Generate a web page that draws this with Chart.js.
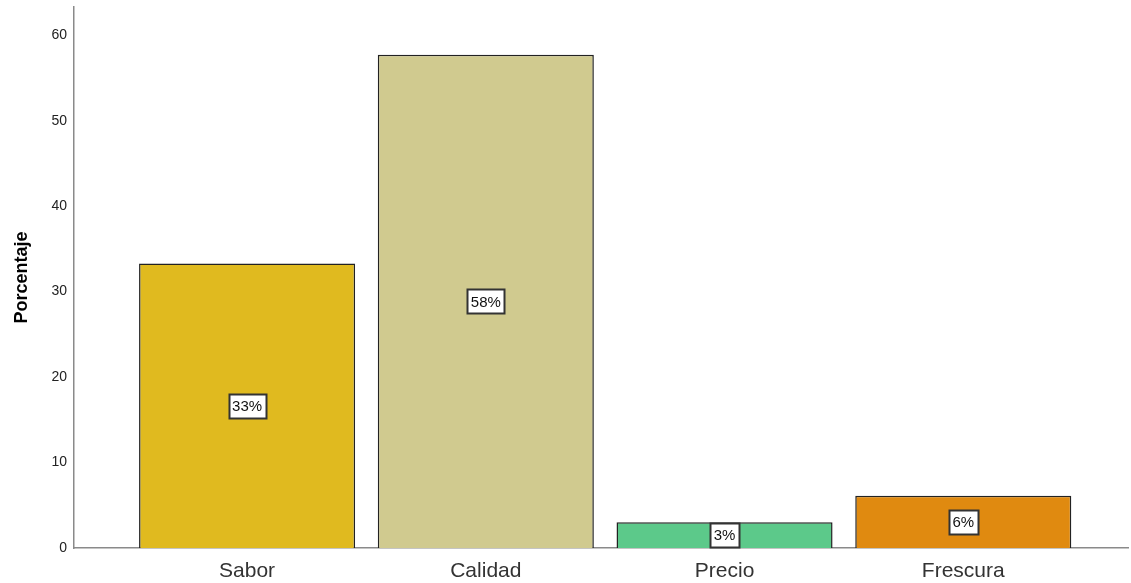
<!DOCTYPE html>
<html>
<head>
<meta charset="utf-8">
<script src="https://cdn.jsdelivr.net/npm/chart.js@4"></script>
<style>
html,body{margin:0;padding:0;background:#fff;}
#wrap{width:1131px;height:583px;position:relative;}
</style>
</head>
<body>
<div id="wrap"><canvas id="c" width="1131" height="583"></canvas></div>
<script>
const categories = ['Sabor', 'Calidad', 'Precio', 'Frescura'];
const values = [33.3, 57.7, 3.0, 6.1];
const valueLabels = ['33%', '58%', '3%', '6%'];
const barColors = ['#E0BA1F', '#D0CA8F', '#5CC98A', '#E08A10'];
const yTicks = [0, 10, 20, 30, 40, 50, 60];

const FONT = 'Arial, "Liberation Sans", sans-serif';

const labelPlugin = {
  id: 'boxLabels',
  afterDatasetsDraw(chart) {
    const ctx = chart.ctx;
    const meta = chart.getDatasetMeta(0);
    ctx.save();
    ctx.font = '15px ' + FONT;
    ctx.textAlign = 'center';
    ctx.textBaseline = 'middle';
    meta.data.forEach((el, i) => {
      const txt = valueLabels[i];
      const cx = el.x;
      let cy = (el.y + el.base) / 2;
      const w = Math.round(ctx.measureText(txt).width + 7);
      const h = 24;
      if (cy + h / 2 > el.base + 2) cy = el.base + 2 - h / 2;
      const bx = Math.round(cx - w / 2) + 0.5, by = Math.round(cy - h / 2) + 0.5;
      ctx.fillStyle = '#fff';
      ctx.fillRect(bx, by, w, h);
      ctx.strokeStyle = '#333';
      ctx.lineWidth = 2;
      ctx.strokeRect(bx, by, w, h);
      ctx.fillStyle = '#111';
      ctx.fillText(txt, cx, cy + 1);
    });
    ctx.restore();
  }
};

new Chart(document.getElementById('c'), {
  type: 'bar',
  data: {
    datasets: [{
      data: values.map((v, i) => ({ x: i + 1, y: v })),
      backgroundColor: barColors,
      borderColor: '#222',
      borderWidth: 1.5,
      categoryPercentage: 1,
      barPercentage: 0.905
    }]
  },
  options: {
    responsive: false,
    animation: false,
    devicePixelRatio: 1,
    layout: { padding: { top: 7, right: 3, left: 0, bottom: 0 } },
    plugins: { legend: { display: false }, tooltip: { enabled: false } },
    scales: {
      x: {
        type: 'linear',
        offset: false,
        min: 0.275,
        max: 4.69,
        grid: { display: false, drawTicks: false },
        border: { color: '#8a8a8a', width: 1.5 },
        afterBuildTicks: s => { s.ticks = categories.map((c, i) => ({ value: i + 1 })); },
        afterFit: s => { s.height = 35; s.paddingLeft = 0; s.paddingRight = 0; },
        ticks: {
          autoSkip: false,
          maxRotation: 0,
          padding: 11,
          color: '#333',
          font: { size: 21, family: FONT },
          callback: v => categories[v - 1]
        }
      },
      y: {
        min: 0,
        max: 63.3,
        grid: { display: false, drawTicks: false },
        border: { color: '#8a8a8a', width: 1.5 },
        afterBuildTicks: s => { s.ticks = yTicks.map(v => ({ value: v })); },
        afterFit: s => { s.width = 74; s.paddingTop = 0; s.paddingBottom = 0; },
        ticks: {
          padding: 7,
          color: '#222',
          font: { size: 14, family: FONT }
        },
        title: {
          display: true,
          text: 'Porcentaje',
          color: '#000',
          font: { size: 18, weight: 'bold', family: FONT },
          padding: { top: 11, bottom: 0 }
        }
      }
    }
  },
  plugins: [labelPlugin]
});
</script>
</body>
</html>
